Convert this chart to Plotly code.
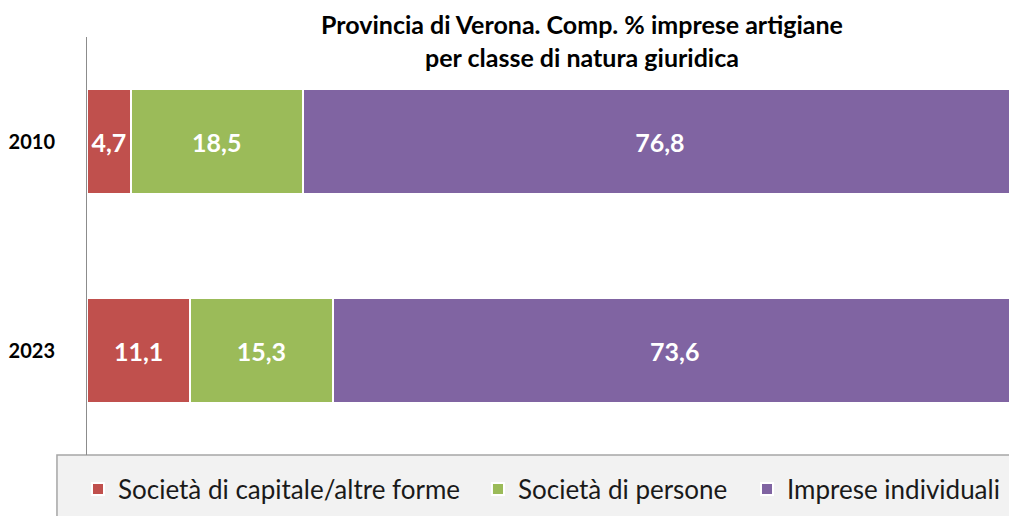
import plotly.graph_objects as go

years = ["2010", "2023"]
series_names = ["Società di capitale/altre forme", "Società di persone", "Imprese individuali"]
capitale = [4.7, 11.1]
persone = [18.5, 15.3]
individuali = [76.8, 73.6]
colors = ["#C0504D", "#9BBB59", "#8064A2"]
legend_ids = ["legend", "legend2", "legend3"]
legend_x = [-0.0097, 0.4204, 0.7097]

FONT = "Lato, 'Open Sans', sans-serif"
W, H = 1009, 508

fig = go.Figure()
for name, vals, col, lid in zip(series_names, [capitale, persone, individuali], colors, legend_ids):
    fig.add_trace(go.Bar(
        y=years, x=vals, name=name, orientation="h", legend=lid,
        marker=dict(color=col, line=dict(color="white", width=2)),
        text=[f"{v:.1f}".replace(".", ",") for v in vals],
        textposition="inside", insidetextanchor="middle", textangle=0,
        constraintext="none",
        textfont=dict(color="white", size=25, family=FONT, weight="bold"),
        width=0.5,
    ))

legend_common = dict(orientation="h", xanchor="left", y=-0.0813, yanchor="middle",
                     bgcolor="rgba(0,0,0,0)", font=dict(size=26, family=FONT, color="#1a1a1a"),
                     itemclick=False, borderwidth=0)

fig.update_layout(
    barmode="stack",
    width=W, height=H,
    margin=dict(l=79, r=0, t=29, b=61, autoexpand=False),
    plot_bgcolor="white", paper_bgcolor="white",
    font=dict(family=FONT, color="#000000"),
    title=dict(
        text="<b>Provincia di Verona. Comp. % imprese artigiane<br>per classe di natura giuridica</b>",
        x=574 / W, xref="container", xanchor="center", y=1 - 26 / H, yref="container", yanchor="middle",
        font=dict(size=25, family=FONT, color="#000"),
    ),
    xaxis=dict(range=[0, 100], visible=False, fixedrange=True),
    yaxis=dict(autorange="reversed", showline=True, linecolor="#8c8c8c", linewidth=1,
               ticks="", ticklabelstandoff=27, automargin=False,
               tickfont=dict(size=20, family=FONT, color="#000", weight="bold"), fixedrange=True),
    showlegend=True,
    legend=dict(x=legend_x[0], **legend_common),
    legend2=dict(x=legend_x[1], **legend_common),
    legend3=dict(x=legend_x[2], **legend_common),
    shapes=[dict(type="rect", xref="paper", yref="paper", x0=-0.0323, x1=1.05, y0=-0.2, y1=0,
                 fillcolor="#f2f2f2", line=dict(color="#a6a6a6", width=1.5), layer="below")],
)

fig.write_html("out.html")
